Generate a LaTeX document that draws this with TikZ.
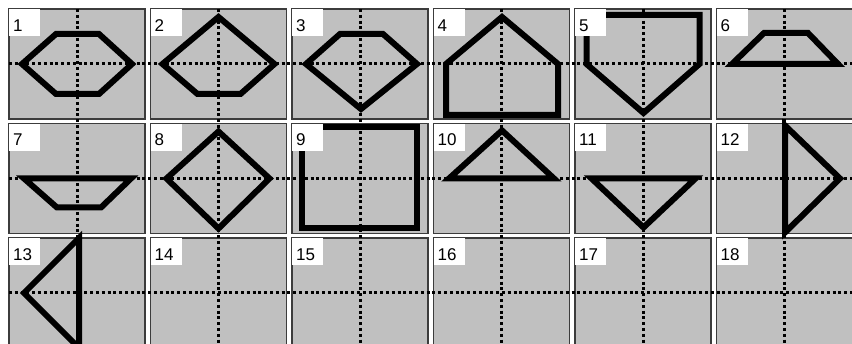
\documentclass[tikz,border=0pt]{standalone}
\usepackage{fontspec}
\setmainfont{Liberation Sans}
\definecolor{cellgray}{RGB}{192,192,192}
\definecolor{edgegray}{RGB}{60,60,60}
\begin{document}
\begin{tikzpicture}[x=1pt,y=-1pt,
  cellbox/.style={fill=cellgray,draw=edgegray,line width=1.2pt},
  guide/.style={black,line width=3pt,dash pattern=on 3pt off 2.8pt},
  figline/.style={black,line width=6pt,line join=miter},
  labelbox/.style={fill=white,draw=none,inner sep=0pt,minimum width=31pt,minimum height=27pt,anchor=north west},
  numtext/.style={inner sep=0pt,anchor=base west,font=\fontsize{17}{17}\selectfont}]
\useasboundingbox (0,0) rectangle (852,344);
\clip (0,0) rectangle (852,344);
% cells
\foreach \c in {0,...,5}{
  \foreach \r in {0,1,2}{
    \draw[cellbox] ({9+141.5*\c},{9+114.5*\r}) rectangle +(136,110);
  }
}
% guide lines
\foreach \r in {0,1,2}{
  \draw[guide] (9,{64+114.5*\r}) -- (852,{64+114.5*\r});
}
\foreach \c in {0,...,5}{
  \draw[guide] ({77+141.5*\c},9) -- ({77+141.5*\c},344);
}
% 1
\begin{scope}[shift={(77,64)}]
\draw[figline] (-55,0)--(-21,-30)--(22,-30)--(55,0)--(22,30)--(-21,30)--cycle;
\end{scope}
% 2
\begin{scope}[shift={(218.5,64)}]
\draw[figline] (0,-47)--(56,0)--(22,30)--(-21,30)--(-56,0)--cycle;
\end{scope}
% 3
\begin{scope}[shift={(361,64)}]
\draw[figline] (-21,-30)--(22,-30)--(56,0)--(0,45)--(-55,0)--cycle;
\end{scope}
% 4
\begin{scope}[shift={(502,64)}]
\draw[figline] (0,-47)--(56,0)--(56,51)--(-56,51)--(-56,0)--cycle;
\end{scope}
% 5
\begin{scope}[shift={(643.5,64)}]
\draw[figline] (-57,-49)--(56,-49)--(56,0)--(0,49)--(-57,0)--cycle;
\end{scope}
% 6
\begin{scope}[shift={(785,64)}]
\draw[figline] (-21,-31)--(23,-31)--(53,0)--(-53,0)--cycle;
\end{scope}
% 7
\begin{scope}[shift={(77,178.5)}]
\draw[figline] (-53,0)--(54,0)--(24,29)--(-20,29)--cycle;
\end{scope}
% 8
\begin{scope}[shift={(218.5,178.5)}]
\draw[figline] (0,-47)--(51,0)--(0,50)--(-52,0)--cycle;
\end{scope}
% 9
\begin{scope}[shift={(361,178.5)}]
\draw[figline] (-59,-51)--(56,-51)--(56,50)--(-59,50)--cycle;
\end{scope}
% 10
\begin{scope}[shift={(502,178.5)}]
\draw[figline] (0,-48)--(52,0)--(-53,0)--cycle;
\end{scope}
% 11
\begin{scope}[shift={(643.5,178.5)}]
\draw[figline] (-52,0)--(52,0)--(0,49)--cycle;
\end{scope}
% 12
\begin{scope}[shift={(785,178.5)}]
\draw[figline] (0,-53)--(55,0)--(0,54)--cycle;
\end{scope}
% 13
\begin{scope}[shift={(79,293)}]
\draw[figline] (0,-55)--(-55,0)--(0,55)--cycle;
\end{scope}
% labels
\foreach \n [count=\k from 0] in {1,...,18}{
  \pgfmathtruncatemacro{\cc}{mod(\k,6)}
  \pgfmathtruncatemacro{\rr}{div(\k,6)}
  \node[labelbox] (box\n) at ({9+141.5*\cc},{9+114.5*\rr}) {};
  \node[numtext] (num\n) at ({13+141.5*\cc},{31.5+114.5*\rr}) {\n};
}
\end{tikzpicture}
\end{document}
